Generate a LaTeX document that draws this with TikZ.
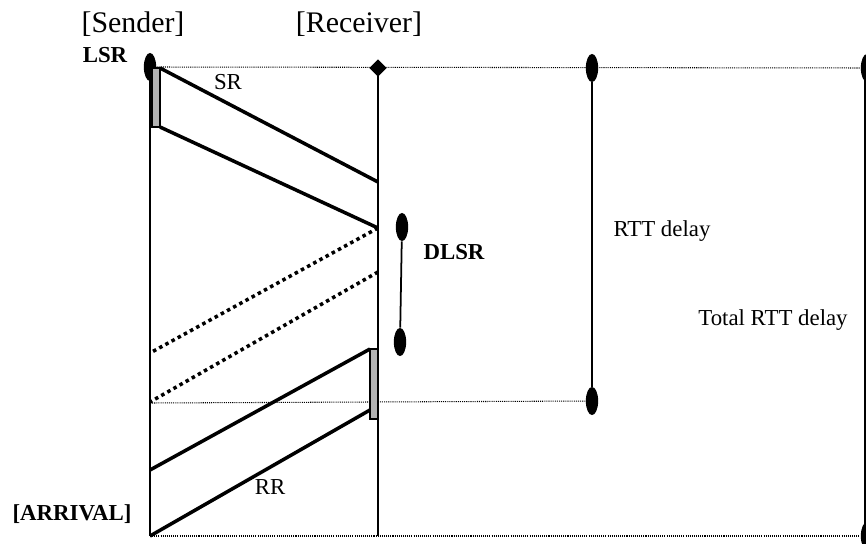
\documentclass[tikz,border=0pt]{standalone}
\usepackage{fontspec}
\setmainfont{Liberation Serif}
\usetikzlibrary{shapes.geometric}

\begin{document}
\begin{tikzpicture}[x=0.02cm,y=-0.02cm,
  blob/.style={ellipse,fill,inner sep=0pt,minimum width=7pt,minimum height=16pt},
  stamp/.style={draw,fill=black!30,line width=0.6pt},
  life/.style={line width=0.9pt},
  msg/.style={line width=2pt},
  lost/.style={line width=2pt,dash pattern=on 2pt off 2pt},
  guide/.style={line width=0.6pt,dash pattern=on 0.6pt off 0.6pt},
  span/.style={line width=1pt},
  head/.style={font=\fontsize{17}{20}\selectfont},
  tag/.style={font=\fontsize{13}{15}\selectfont},
  btag/.style={font=\fontsize{13}{15}\selectfont\bfseries}
]
  \useasboundingbox (0,0) rectangle (866,544);

  % headers and labels
  \node[head] (sender) at (133,24) {[Sender]};
  \node[head] (receiver) at (359,24) {[Receiver]};
  \node[btag] (lsrtxt) at (105,55) {LSR};
  \node[btag] (arrtxt) at (72,514) {[ARRIVAL]};
  \node[tag] (srtxt) at (228,82) {SR};
  \node[tag] (rrtxt) at (270,487) {RR};
  \node[btag] (dlsrtxt) at (454,252) {DLSR};
  \node[tag] (rtttxt) at (662,231) {RTT delay};
  \node[tag] (tottxt) at (773,320) {Total RTT delay};

  % life lines
  \coordinate (s0) at (150,68);
  \coordinate (s1) at (150,536);
  \coordinate (r0) at (378,68);
  \coordinate (r1) at (378,536);
  \draw[life] (s0) -- (s1);
  \draw[life] (r0) -- (r1);

  % marks
  \node[blob] (lsr) at (150,67) {};
  \node[diamond,fill,inner sep=0pt,minimum width=10pt,minimum height=10pt] (rcv) at (378,68) {};
  \node[blob] (rtttop) at (592,68) {};
  \node[blob] (rttbot) at (592,401) {};
  \node[blob] (tottop) at (867,68) {};
  \node[blob] (totbot) at (867,536) {};
  \node[blob] (dtop) at (402,227) {};
  \node[blob] (dbot) at (400,342) {};

  % guides
  \coordinate (g1) at (150,403);
  \draw[guide] (lsr) -- (tottop);
  \draw[guide] (g1) -- (rttbot);
  \draw[guide] (s1) -- (totbot);
  \draw[span] (rtttop) -- (rttbot);
  \draw[span] (865,68) -- (865,536);
  \draw[span] (dtop) -- (dbot);

  % sender report
  \draw[msg] (160,68) -- (378,182);
  \draw[msg] (160,127) -- (378,228);
  \draw[stamp] (152,68) rectangle (160,127);

  % lost packets
  \draw[lost] (378,228) -- (150,353);
  \draw[lost] (378,272) -- (150,402);

  % receiver report
  \draw[msg] (370,349) -- (150,470);
  \draw[msg] (370,410) -- (150,536);
  \draw[stamp] (370,349) rectangle (378,419);
\end{tikzpicture}
\end{document}
